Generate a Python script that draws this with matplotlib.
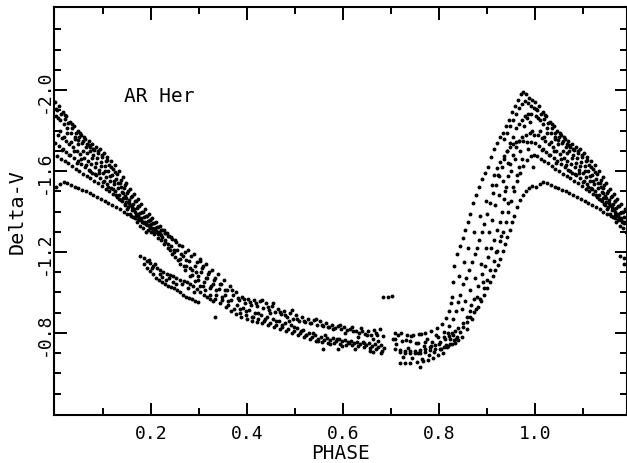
import matplotlib
matplotlib.use("Agg")
import matplotlib.pyplot as plt
import numpy as np
from matplotlib.ticker import FixedLocator

# AR Her light curve, (phase, Delta-V), one list per cycle
cycle_a = [
    (0.000, -1.94), (0.008, -1.92), (0.016, -1.89), (0.023, -1.87), (0.031, -1.84), (0.039, -1.82),
    (0.047, -1.80), (0.055, -1.78), (0.063, -1.76), (0.070, -1.75), (0.078, -1.735), (0.086, -1.72),
    (0.094, -1.71), (0.102, -1.69), (0.109, -1.67), (0.117, -1.65), (0.125, -1.63), (0.133, -1.60),
    (0.141, -1.57), (0.148, -1.54), (0.156, -1.51), (0.164, -1.485), (0.172, -1.46), (0.180, -1.435),
    (0.188, -1.41), (0.195, -1.39), (0.203, -1.37), (0.211, -1.35), (0.219, -1.33), (0.227, -1.31),
    (0.234, -1.295), (0.242, -1.275), (0.250, -1.26),
    (0.265, -1.23), (0.278, -1.21), (0.290, -1.19), (0.302, -1.165), (0.315, -1.14), (0.327, -1.11),
    (0.340, -1.09), (0.352, -1.06), (0.365, -1.03), (0.377, -1.00), (0.390, -0.98), (0.402, -0.97),
    (0.415, -0.965), (0.427, -0.96), (0.440, -0.95), (0.452, -0.935), (0.465, -0.92), (0.477, -0.91),
    (0.490, -0.90), (0.502, -0.89), (0.515, -0.88), (0.527, -0.87), (0.540, -0.865), (0.552, -0.86),
    (0.565, -0.85), (0.577, -0.84), (0.590, -0.835), (0.602, -0.83), (0.615, -0.82), (0.627, -0.81),
    (0.640, -0.81), (0.652, -0.81), (0.665, -0.815), (0.677, -0.82),
    (0.708, -0.80), (0.721, -0.80), (0.733, -0.79), (0.746, -0.79), (0.758, -0.795), (0.771, -0.80),
    (0.783, -0.81), (0.796, -0.825), (0.806, -0.845), (0.815, -0.875), (0.821, -0.91), (0.825, -0.95),
    (0.827, -0.98), (0.829, -1.05), (0.831, -1.13), (0.838, -1.19), (0.844, -1.23), (0.850, -1.27),
    (0.854, -1.31), (0.860, -1.35), (0.865, -1.39), (0.871, -1.44), (0.877, -1.48), (0.883, -1.52),
    (0.890, -1.56), (0.896, -1.59), (0.902, -1.62), (0.908, -1.67), (0.915, -1.71), (0.921, -1.74),
    (0.927, -1.77), (0.933, -1.79), (0.940, -1.82), (0.946, -1.85), (0.952, -1.89), (0.958, -1.92),
    (0.965, -1.95), (0.971, -1.98), (0.975, -1.99), (0.981, -1.98), (0.988, -1.96), (0.994, -1.95),
]

cycle_b = [
    (0.002, -1.87), (0.010, -1.85), (0.018, -1.83), (0.025, -1.81), (0.033, -1.79), (0.041, -1.77),
    (0.049, -1.755), (0.057, -1.74), (0.064, -1.72), (0.072, -1.70), (0.080, -1.68), (0.088, -1.665),
    (0.096, -1.645), (0.104, -1.625), (0.111, -1.60), (0.119, -1.58), (0.127, -1.56), (0.135, -1.54),
    (0.143, -1.515), (0.150, -1.49), (0.158, -1.47), (0.166, -1.45), (0.174, -1.425), (0.182, -1.40),
    (0.190, -1.38), (0.197, -1.36), (0.205, -1.345), (0.213, -1.325), (0.221, -1.31), (0.229, -1.295),
    (0.236, -1.28), (0.244, -1.265), (0.252, -1.25),
    (0.258, -1.235), (0.271, -1.20), (0.283, -1.18), (0.296, -1.15), (0.308, -1.13), (0.321, -1.10),
    (0.333, -1.07), (0.346, -1.04), (0.358, -1.01), (0.371, -0.99), (0.383, -0.965), (0.396, -0.95),
    (0.408, -0.94), (0.421, -0.935), (0.433, -0.925), (0.446, -0.915), (0.458, -0.905), (0.471, -0.895),
    (0.483, -0.88), (0.496, -0.87), (0.508, -0.86), (0.521, -0.855), (0.533, -0.85), (0.546, -0.84),
    (0.558, -0.835), (0.571, -0.83), (0.583, -0.825), (0.596, -0.82), (0.608, -0.815), (0.621, -0.81),
    (0.633, -0.80), (0.646, -0.795), (0.658, -0.79), (0.671, -0.79), (0.683, -0.785),
    (0.708, -0.77), (0.723, -0.76), (0.740, -0.76), (0.756, -0.75), (0.771, -0.755), (0.785, -0.755),
    (0.798, -0.78), (0.810, -0.805), (0.821, -0.835), (0.829, -0.87), (0.835, -0.91), (0.840, -0.955),
    (0.844, -0.99), (0.850, -1.04), (0.856, -1.07), (0.863, -1.11), (0.869, -1.15), (0.875, -1.19),
    (0.879, -1.22), (0.883, -1.26), (0.890, -1.30), (0.894, -1.34), (0.900, -1.39), (0.906, -1.44),
    (0.913, -1.49), (0.919, -1.53), (0.925, -1.575), (0.931, -1.62), (0.935, -1.66), (0.942, -1.70),
    (0.948, -1.74), (0.954, -1.77), (0.960, -1.81), (0.967, -1.83), (0.973, -1.85), (0.979, -1.87),
    (0.985, -1.88), (0.992, -1.88),
]

cycle_c = [
    (0.006, -1.78), (0.014, -1.765), (0.022, -1.75), (0.029, -1.735), (0.037, -1.72), (0.045, -1.70),
    (0.053, -1.685), (0.061, -1.665), (0.068, -1.65), (0.076, -1.635), (0.084, -1.62), (0.092, -1.605),
    (0.100, -1.59), (0.107, -1.57), (0.115, -1.55), (0.123, -1.535), (0.131, -1.515), (0.139, -1.495),
    (0.146, -1.475), (0.154, -1.455), (0.162, -1.435), (0.170, -1.415), (0.178, -1.395), (0.186, -1.375),
    (0.193, -1.355), (0.201, -1.34), (0.209, -1.32), (0.217, -1.30),
    (0.229, -1.26), (0.242, -1.23), (0.254, -1.21), (0.267, -1.18), (0.279, -1.155), (0.292, -1.13),
    (0.304, -1.10), (0.317, -1.07), (0.329, -1.04), (0.342, -1.015), (0.354, -0.99), (0.367, -0.965),
    (0.379, -0.94), (0.392, -0.925), (0.404, -0.915), (0.417, -0.90), (0.429, -0.89), (0.442, -0.88),
    (0.454, -0.87), (0.467, -0.86), (0.479, -0.85), (0.492, -0.84), (0.504, -0.825), (0.517, -0.815),
    (0.529, -0.80), (0.542, -0.79), (0.554, -0.78), (0.567, -0.775), (0.579, -0.775), (0.592, -0.77),
    (0.604, -0.765), (0.617, -0.76), (0.629, -0.755), (0.642, -0.755), (0.654, -0.75), (0.667, -0.745),
    (0.679, -0.74),
    (0.708, -0.72), (0.719, -0.715), (0.729, -0.71), (0.740, -0.71), (0.750, -0.71), (0.760, -0.715),
    (0.771, -0.72), (0.781, -0.73), (0.792, -0.74), (0.802, -0.755), (0.8125, -0.77), (0.821, -0.785),
    (0.827, -0.80), (0.833, -0.81), (0.840, -0.825), (0.850, -0.85), (0.858, -0.88), (0.865, -0.91),
    (0.873, -0.97), (0.881, -1.03), (0.890, -1.09), (0.896, -1.13), (0.902, -1.175), (0.908, -1.22),
    (0.915, -1.26), (0.921, -1.31), (0.927, -1.35), (0.931, -1.40), (0.935, -1.46), (0.940, -1.52),
    (0.944, -1.575), (0.948, -1.635), (0.954, -1.68), (0.960, -1.72), (0.967, -1.75), (0.973, -1.77),
    (0.981, -1.78), (0.990, -1.79), (0.998, -1.78),
]

cycle_d = [
    (0.004, -1.675), (0.012, -1.66), (0.020, -1.65), (0.027, -1.64), (0.035, -1.625), (0.043, -1.61),
    (0.051, -1.60), (0.059, -1.585), (0.066, -1.575), (0.074, -1.565), (0.082, -1.55), (0.090, -1.54),
    (0.098, -1.525), (0.106, -1.51), (0.113, -1.50), (0.121, -1.485), (0.129, -1.47), (0.137, -1.455),
    (0.145, -1.435), (0.152, -1.42), (0.160, -1.405), (0.168, -1.385), (0.176, -1.37), (0.184, -1.35),
    (0.191, -1.335), (0.199, -1.32), (0.207, -1.305), (0.215, -1.29), (0.223, -1.275),
    (0.235, -1.24), (0.248, -1.21), (0.260, -1.165), (0.273, -1.13), (0.285, -1.11), (0.298, -1.08),
    (0.310, -1.05), (0.323, -1.02), (0.335, -0.99), (0.348, -0.965), (0.360, -0.94), (0.373, -0.92),
    (0.385, -0.90), (0.398, -0.89), (0.410, -0.88), (0.423, -0.87), (0.435, -0.86), (0.448, -0.85),
    (0.460, -0.84), (0.473, -0.83), (0.485, -0.82), (0.498, -0.81), (0.510, -0.80), (0.523, -0.79),
    (0.535, -0.78), (0.548, -0.77), (0.560, -0.765), (0.573, -0.765), (0.585, -0.76), (0.598, -0.76),
    (0.610, -0.755), (0.623, -0.75), (0.635, -0.745), (0.648, -0.74), (0.660, -0.735), (0.673, -0.73),
    (0.685, -0.725),
    (0.719, -0.705), (0.729, -0.70), (0.740, -0.70), (0.750, -0.70), (0.760, -0.70), (0.771, -0.705),
    (0.781, -0.715), (0.792, -0.72), (0.802, -0.72), (0.810, -0.73), (0.819, -0.735), (0.827, -0.745),
    (0.833, -0.75), (0.840, -0.765), (0.848, -0.78), (0.858, -0.82), (0.869, -0.87), (0.877, -0.92),
    (0.885, -0.97), (0.894, -1.02), (0.900, -1.06), (0.906, -1.11), (0.915, -1.155), (0.921, -1.205),
    (0.927, -1.255), (0.933, -1.30), (0.940, -1.35), (0.944, -1.40), (0.950, -1.45), (0.956, -1.50),
    (0.963, -1.55), (0.969, -1.59), (0.975, -1.625), (0.983, -1.655), (0.992, -1.675), (0.998, -1.68),
]

cycle_e = [
    (0.002, -1.52), (0.010, -1.535), (0.018, -1.545), (0.025, -1.54), (0.033, -1.53), (0.041, -1.52),
    (0.049, -1.515), (0.057, -1.505), (0.064, -1.50), (0.072, -1.49), (0.080, -1.48), (0.088, -1.47),
    (0.096, -1.46), (0.104, -1.45), (0.111, -1.44), (0.119, -1.43), (0.127, -1.42), (0.135, -1.41),
    (0.143, -1.40), (0.150, -1.39), (0.158, -1.38), (0.166, -1.37), (0.174, -1.36), (0.182, -1.35),
    (0.190, -1.34), (0.197, -1.325), (0.205, -1.31), (0.213, -1.30), (0.221, -1.285),
    (0.229, -1.25), (0.240, -1.21), (0.250, -1.175), (0.260, -1.14), (0.271, -1.11), (0.281, -1.08),
    (0.292, -1.055), (0.302, -1.03), (0.313, -1.01), (0.323, -0.99), (0.333, -0.97), (0.344, -0.95),
    (0.356, -0.93), (0.367, -0.91), (0.377, -0.895), (0.388, -0.88), (0.400, -0.87), (0.410, -0.86),
    (0.421, -0.855), (0.431, -0.85), (0.444, -0.84), (0.456, -0.83), (0.469, -0.82), (0.481, -0.81),
    (0.494, -0.80), (0.506, -0.79), (0.519, -0.78), (0.531, -0.77), (0.544, -0.76), (0.556, -0.755),
    (0.569, -0.75), (0.581, -0.75), (0.594, -0.745), (0.606, -0.74), (0.619, -0.74), (0.631, -0.735),
    (0.644, -0.73), (0.656, -0.725), (0.669, -0.72), (0.681, -0.71),
    (0.719, -0.65), (0.729, -0.65), (0.740, -0.65), (0.754, -0.655), (0.767, -0.66), (0.777, -0.665),
    (0.7875, -0.675), (0.798, -0.69), (0.808, -0.70), (0.817, -0.73), (0.823, -0.745), (0.831, -0.765),
    (0.8375, -0.78), (0.844, -0.805), (0.850, -0.83), (0.858, -0.855), (0.865, -0.88), (0.873, -0.905),
    (0.881, -0.93), (0.8875, -0.96), (0.894, -0.99), (0.900, -1.02), (0.906, -1.05), (0.9125, -1.08),
    (0.917, -1.11), (0.923, -1.135), (0.927, -1.165), (0.933, -1.205), (0.9375, -1.24), (0.942, -1.275),
    (0.948, -1.31), (0.952, -1.35), (0.956, -1.38), (0.9625, -1.42), (0.969, -1.455), (0.975, -1.48),
    (0.981, -1.50), (0.9875, -1.515), (0.994, -1.525),
]

# partial cycles (only covered near maximum)
cycle_f = [
    (0.004, -1.90), (0.012, -1.88), (0.020, -1.855), (0.027, -1.835), (0.035, -1.81), (0.043, -1.79),
    (0.051, -1.77), (0.059, -1.75), (0.066, -1.735), (0.074, -1.72), (0.082, -1.705), (0.090, -1.69),
    (0.098, -1.67), (0.106, -1.65), (0.113, -1.63), (0.121, -1.61), (0.129, -1.585), (0.137, -1.555),
    (0.145, -1.53), (0.152, -1.50), (0.160, -1.475), (0.168, -1.45), (0.176, -1.425), (0.184, -1.40),
    (0.191, -1.38), (0.199, -1.36), (0.207, -1.345), (0.215, -1.325), (0.223, -1.31), (0.230, -1.295),
    (0.238, -1.28),
    (0.935, -1.76), (0.942, -1.79), (0.948, -1.82), (0.954, -1.85), (0.960, -1.88), (0.967, -1.91),
    (0.973, -1.93), (0.979, -1.945), (0.985, -1.935), (0.992, -1.92), (0.998, -1.91),
]

cycle_g = [
    (0.000, -1.74), (0.008, -1.725), (0.016, -1.71), (0.023, -1.695), (0.031, -1.68), (0.039, -1.665),
    (0.047, -1.65), (0.055, -1.635), (0.063, -1.62), (0.070, -1.605), (0.078, -1.59), (0.086, -1.58),
    (0.094, -1.565), (0.102, -1.55), (0.109, -1.535), (0.117, -1.515), (0.125, -1.50), (0.133, -1.48),
    (0.141, -1.465), (0.148, -1.445), (0.156, -1.43), (0.164, -1.41), (0.172, -1.39), (0.180, -1.37),
    (0.188, -1.35), (0.195, -1.335), (0.203, -1.32), (0.211, -1.305), (0.219, -1.29),
    (0.915, -1.58), (0.921, -1.615), (0.927, -1.645), (0.935, -1.675), (0.942, -1.70), (0.948, -1.72),
    (0.954, -1.735), (0.960, -1.745), (0.967, -1.75), (0.975, -1.75), (0.983, -1.745), (0.992, -1.745),
]

# faint branches seen only on the descending side
cycle_h = [
    (0.177, -1.18), (0.185, -1.17), (0.192, -1.155), (0.198, -1.145), (0.204, -1.13), (0.212, -1.12),
    (0.219, -1.11), (0.226, -1.10), (0.233, -1.09), (0.240, -1.085), (0.246, -1.08), (0.253, -1.07),
    (0.260, -1.06), (0.268, -1.055), (0.275, -1.05), (0.281, -1.04), (0.2875, -1.03), (0.295, -1.015),
    (0.302, -1.00), (0.310, -0.99), (0.317, -0.98), (0.323, -0.97), (0.329, -0.96),
]

cycle_i = [
    (0.185, -1.14), (0.191, -1.12), (0.198, -1.105), (0.204, -1.09), (0.210, -1.07), (0.216, -1.06),
    (0.223, -1.05), (0.229, -1.04), (0.235, -1.03), (0.242, -1.025), (0.248, -1.02), (0.254, -1.01),
    (0.260, -1.00), (0.267, -0.99), (0.273, -0.98), (0.279, -0.975), (0.285, -0.97), (0.292, -0.96),
    (0.298, -0.955), (0.333, -0.88),
]

# scattered points that do not sit on a clear cycle
scatter_max = [
    (0.003, -1.905), (0.006, -1.86), (0.011, -1.80), (0.014, -1.705), (0.019, -1.77), (0.021, -1.875),
    (0.026, -1.79), (0.029, -1.68), (0.033, -1.745), (0.036, -1.83), (0.040, -1.70), (0.042, -1.76),
    (0.045, -1.64), (0.048, -1.735), (0.052, -1.79), (0.054, -1.66), (0.058, -1.70), (0.061, -1.77),
    (0.065, -1.63), (0.067, -1.69), (0.071, -1.73), (0.073, -1.60), (0.077, -1.665), (0.079, -1.71),
    (0.083, -1.585), (0.085, -1.64), (0.089, -1.70), (0.092, -1.59), (0.095, -1.625), (0.099, -1.68),
    (0.101, -1.545), (0.105, -1.60), (0.108, -1.655), (0.110, -1.52), (0.114, -1.575), (0.116, -1.62),
    (0.120, -1.51), (0.122, -1.55), (0.126, -1.595), (0.128, -1.48), (0.131, -1.54), (0.134, -1.46),
    (0.137, -1.52), (0.140, -1.45), (0.142, -1.49), (0.146, -1.43), (0.149, -1.465), (0.151, -1.41),
    (0.154, -1.44), (0.157, -1.39), (0.160, -1.42), (0.163, -1.375), (0.167, -1.40), (0.170, -1.35),
    (0.173, -1.38), (0.177, -1.33), (0.179, -1.36), (0.183, -1.32), (0.186, -1.345), (0.189, -1.30),
]

scatter_decline = [
    (0.193, -1.31), (0.196, -1.16), (0.201, -1.30), (0.203, -1.12), (0.207, -1.29), (0.209, -1.14),
    (0.214, -1.27), (0.218, -1.09), (0.221, -1.26), (0.224, -1.075), (0.228, -1.24), (0.231, -1.06),
    (0.236, -1.22), (0.238, -1.07), (0.243, -1.19), (0.245, -1.05), (0.249, -1.20), (0.252, -1.04),
    (0.256, -1.16), (0.262, -1.19), (0.264, -1.04), (0.269, -1.13), (0.274, -1.16), (0.277, -1.02),
    (0.282, -1.12), (0.286, -1.085), (0.289, -1.00), (0.294, -1.10), (0.299, -1.06), (0.306, -1.12),
    (0.309, -1.03), (0.314, -1.07), (0.319, -1.09), (0.325, -1.03), (0.331, -1.06), (0.336, -1.01),
    (0.343, -1.04), (0.349, -0.98), (0.355, -1.01), (0.361, -0.96),
]

scatter_plateau = [
    (0.369, -1.01), (0.381, -0.975), (0.386, -0.92), (0.394, -0.97), (0.399, -0.91), (0.406, -0.955),
    (0.412, -0.88), (0.418, -0.95), (0.424, -0.90), (0.431, -0.965), (0.437, -0.87), (0.443, -0.93),
    (0.449, -0.90), (0.455, -0.95), (0.461, -0.86), (0.468, -0.905), (0.474, -0.84), (0.480, -0.89),
    (0.487, -0.86), (0.493, -0.915), (0.499, -0.83), (0.505, -0.87), (0.512, -0.81), (0.518, -0.86),
    (0.524, -0.79), (0.531, -0.85), (0.537, -0.80), (0.543, -0.87), (0.549, -0.76), (0.556, -0.84),
    (0.562, -0.79), (0.568, -0.83), (0.574, -0.745), (0.580, -0.82), (0.587, -0.77), (0.593, -0.84),
    (0.599, -0.735), (0.605, -0.80), (0.612, -0.75), (0.618, -0.83), (0.625, -0.72), (0.631, -0.78),
    (0.637, -0.825), (0.643, -0.75), (0.650, -0.79), (0.656, -0.71), (0.662, -0.77), (0.668, -0.80),
    (0.674, -0.76), (0.679, -0.70),
]

scatter_minimum = [
    (0.704, -0.77), (0.711, -0.745), (0.715, -0.79), (0.725, -0.68), (0.731, -0.765), (0.735, -0.725),
    (0.742, -0.785), (0.745, -0.675), (0.752, -0.75), (0.756, -0.70), (0.763, -0.795), (0.765, -0.67),
    (0.769, -0.735), (0.775, -0.77), (0.779, -0.69), (0.784, -0.735), (0.790, -0.705), (0.794, -0.79),
    (0.800, -0.745), (0.805, -0.72), (0.811, -0.78), (0.815, -0.74), (0.818, -0.80), (0.824, -0.77),
    (0.829, -0.79), (0.836, -0.77),
]

scatter_rise = [
    (0.842, -1.08), (0.848, -0.92), (0.852, -1.15), (0.855, -0.96), (0.861, -1.22), (0.864, -1.01),
    (0.867, -0.94), (0.873, -1.30), (0.876, -1.07), (0.880, -0.98), (0.886, -1.38), (0.888, -1.14),
    (0.892, -1.05), (0.898, -1.45), (0.899, -1.22), (0.904, -1.30), (0.910, -1.53), (0.911, -1.36),
    (0.916, -1.43), (0.918, -1.20), (0.923, -1.58), (0.925, -1.48), (0.929, -1.28), (0.934, -1.55),
    (0.937, -1.50), (0.943, -1.64), (0.945, -1.44), (0.950, -1.60), (0.955, -1.52), (0.959, -1.66),
    (0.962, -1.58), (0.966, -1.62), (0.970, -1.70), (0.974, -1.66), (0.978, -1.82), (0.983, -1.86),
    (0.986, -1.71), (0.990, -1.84), (0.995, -1.80), (0.997, -1.62),
]

single_points = [
    (0.683, -0.98), (0.6935, -0.98), (0.702, -0.985), (0.760, -0.63),
    (0.558, -0.72), (0.590, -0.72), (0.6625, -0.705), (0.302, -1.155),
]

# phases below this limit are plotted again at phase + 1
WRAP_LIMIT = 0.19

x_major = [0.2, 0.4, 0.6, 0.8, 1.0]
x_minor = [0.1, 0.3, 0.5, 0.7, 0.9, 1.1]
y_major = [-2.0, -1.6, -1.2, -0.8]
y_minor = [-2.3, -2.2, -2.1, -1.9, -1.8, -1.7, -1.5, -1.4, -1.3, -1.1, -1.0, -0.9, -0.7, -0.6, -0.5]

plt.rcParams['font.family'] = 'DejaVu Sans Mono'

fig = plt.figure(figsize=(6.27, 4.64), dpi=100)
ax = fig.add_axes([54 / 627, 1 - 416 / 464, 573 / 627, 408 / 464])

pts = np.array(cycle_a + cycle_b + cycle_c + cycle_d + cycle_e +
               cycle_f + cycle_g + cycle_h + cycle_i +
               scatter_max + scatter_decline + scatter_plateau +
               scatter_minimum + scatter_rise + single_points)
phase, dmag = pts[:, 0], pts[:, 1]
wrap = phase < WRAP_LIMIT
phase = np.concatenate([phase, phase[wrap] + 1.0])
dmag = np.concatenate([dmag, dmag[wrap]])

ax.plot(phase, dmag, linestyle='none', marker='o', color='black', ms=2.8, mew=0)

ax.set_xlim(-0.002, 1.192)
ax.set_ylim(-0.395, -2.41)

ax.xaxis.set_major_locator(FixedLocator(x_major))
ax.xaxis.set_minor_locator(FixedLocator(x_minor))
ax.yaxis.set_major_locator(FixedLocator(y_major))
ax.yaxis.set_minor_locator(FixedLocator(y_minor))
ax.set_xticklabels([f'{v:.1f}' for v in x_major])
ax.set_yticklabels([f'{v:.1f}' for v in y_major], rotation=90, va='center')

ax.tick_params(which='both', direction='in', top=True, right=True, width=1.4, labelsize=13)
ax.tick_params(which='major', length=9)
ax.tick_params(which='minor', length=5)
ax.tick_params(axis='x', which='major', pad=6.5)
ax.tick_params(axis='y', which='major', pad=0.5)

for s in ax.spines.values():
    s.set_linewidth(1.5)

ax.set_xlabel('PHASE', fontsize=14)
ax.xaxis.set_label_coords(0.5, -0.068)
ax.set_ylabel('Delta-V', fontsize=14.5)
ax.yaxis.set_label_coords(-0.0476, 0.5)

ax.text(0.144, -1.946, 'AR Her', fontsize=14, ha='left', va='baseline')

fig.savefig('out.png', dpi=100)
